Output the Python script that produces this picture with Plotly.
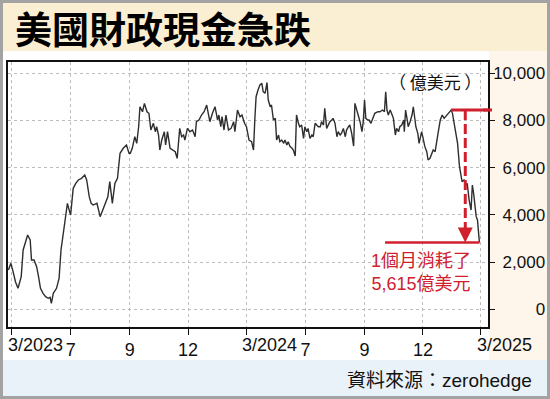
import pandas as pd
import plotly.graph_objects as go

# ---------------- data ----------------
start_date = "2023-03-01"
# days after start_date for each reading
day_offset = [
    -5, -1, 3, 6, 10, 15, 18, 22, 25, 29, 31, 35, 39, 42, 45, 49, 53, 57, 60, 62,
    65, 70, 74, 77, 81, 83, 87, 89, 92, 96, 100, 104, 109, 114, 117, 121, 124, 127, 133, 138,
    141, 146, 150, 153, 157, 161, 165, 169, 174, 179, 183,
    185, 188, 192, 195, 198, 200, 204, 207, 211, 214, 217, 221, 224, 226, 229, 231, 234, 238, 240,
    243, 247, 251, 255, 258, 262, 265, 268, 270, 274, 278, 282, 286, 288, 292, 296, 300, 304, 307,
    309, 313, 317, 321, 323, 326, 328, 331, 334, 338, 342, 346, 348, 352, 356, 359, 363, 366, 370,
    374, 377, 379, 381, 384, 387, 390, 392, 395, 398, 400, 403, 405, 408, 411, 413, 416, 418, 421,
    424, 426, 429, 431, 434, 437, 439, 442, 444, 447, 449, 452, 455, 457, 460, 462, 465, 468, 470,
    473, 475, 478, 481, 483, 486, 488, 491, 494, 496, 499, 501, 504, 507, 509, 512, 514, 517, 520,
    522, 525, 527, 530, 533, 535, 538, 540, 543, 546, 548, 550, 552, 555,
    557, 560, 564, 566, 571, 574, 578, 581, 583, 585, 587, 590, 592, 595, 598, 600, 603, 605, 608,
    611, 612, 614, 617, 618, 621, 624, 626, 628, 630, 633, 635, 639, 642, 644, 647, 649, 652, 655,
    657, 660, 662, 665, 668, 671, 674, 678, 682, 685, 687, 690, 693, 695, 698, 700, 702, 705, 708,
    710, 713, 716, 718, 720, 722, 724, 726, 727, 729,
]
# US Treasury cash balance, 億美元
cash_balance = [
    1665, 1949, 1525, 1170, 890, 1381, 2513, 2864, 3148, 2936, 2089, 2089, 1805, 1381, 890, 678, 534, 466, 508, 253,
    678, 890, 1313, 2513, 3220, 3712, 4491, 4279, 3996, 5127, 5339, 5480, 5551, 5690, 5480, 4771, 4491, 4419, 4491, 3925,
    4135, 4491, 4771, 5408, 4491, 5339, 5551, 6611, 6823, 6963, 6611,
    6611, 6823, 7313, 7033, 7737, 8584, 8373, 8728, 8373, 8305, 7597, 7881, 7526, 7737, 7385, 6749, 7173, 7526, 6963,
    7526, 6823, 6749, 6678, 6398, 7667, 7313, 7385, 7173, 7667, 7526, 7597, 7313, 7950, 8021, 8233, 8373, 8656, 8233,
    7950, 8305, 8584, 8021, 8233, 7737, 8162, 7597, 8233, 7597, 7667, 7950, 7526, 8445, 8162, 8233, 7881, 7737, 7173,
    7103, 6749, 8021, 9009, 9293, 9505, 9576, 9222, 9152, 9604, 8869, 8584, 8656, 8021, 8092, 7173, 7385, 7103, 7173,
    7033, 7173, 6963, 7103, 6893, 6823, 6749, 6496, 8233, 7881, 7737, 7809, 7243, 7737, 7526, 7667, 7243, 7385, 7313,
    7881, 7809, 7737, 7737, 7950, 7809, 8514, 7667, 7809, 7950, 8021, 8092, 7881, 7313, 7526, 7385, 7455, 7667, 7313,
    7597, 7737, 7809, 7455, 6919, 8728, 8445, 8233, 7950, 7526, 7950, 8869, 8092, 8021,
    8021, 7881, 8233, 8305, 8373, 8373, 8445, 8373, 9222, 8445, 8233, 8445, 8305, 8092, 7385, 7667, 7526, 7737, 7809,
    8021, 7526, 8445, 7950, 7737, 7950, 8233, 8584, 8092, 7737, 7455, 7033, 7526, 7103, 6893, 6678, 6327, 6398, 6611,
    6749, 6678, 6963, 7526, 8021, 8233, 8092, 8233, 8373, 8445, 8305, 7881, 7313, 7033, 6043, 5618, 5408, 5480, 5267,
    5339, 4631, 4207, 5267, 4915, 4279, 3925, 3784, 3501, 2830,
]

tick_dates = ["2023-03-01", "2023-06-01", "2023-09-01", "2023-12-01", "2024-03-01",
              "2024-06-01", "2024-09-01", "2024-12-01", "2025-03-01"]
tick_text = ["3/2023", "7", "9", "12", "3/2024", "7", "9", "12", "3/2025"]
y_ticks = [0, 2000, 4000, 6000, 8000, 10000]

title_text = "美國財政現金急跌"
unit_text = "（ 億美元 ）"
source_text = "資料來源：zerohedge"

# ---------------- derived ----------------
dates = pd.Timestamp(start_date) + pd.to_timedelta(day_offset, unit="D")
late = [i for i, d in enumerate(dates) if d >= pd.Timestamp("2025-01-01") - pd.Timedelta(days=10)]
peak_i = max(late, key=lambda i: cash_balance[i])
peak_date, peak_val = dates[peak_i], cash_balance[peak_i]
last_date, last_val = dates[-1], cash_balance[-1]
drop = peak_val - last_val

# y tick labels right-aligned using figure / punctuation spaces
FIG_SP, PUNC_SP = "\u2007", "\u2008"
y_raw = [f"{v:,}" for v in y_ticks]
full = max(y_raw, key=len)
y_text = []
for s in y_raw:
    missing = full[: len(full) - len(s)]
    pad = "".join(PUNC_SP if ch == "," else FIG_SP for ch in missing)
    y_text.append(pad + s)

# year labels are drawn with the month digit on the tick; month labels centred
x_axis_text = [t if "/" not in t else "" for t in tick_text]

# ---------------- layout geometry (pixels) ----------------
W, H = 550, 399
L, R, T, B = 8, 488, 62, 327


def px(x):
    return (x - L) / (R - L)


def py(y):
    return (B - y) / (B - T)


RED = "#D0202E"
XFONT = dict(family="Liberation Sans, Arial", size=18, color="#111111")
YFONT = dict(family="Liberation Sans, Arial", size=17, color="#111111")

fig = go.Figure()
fig.add_trace(go.Scatter(x=dates, y=cash_balance, mode="lines",
                         line=dict(color="#2E2E2E", width=1.4), hoverinfo="skip",
                         showlegend=False))

shapes = [
    dict(type="rect", xref="paper", yref="paper", x0=px(0), x1=px(W), y0=py(51), y1=py(0),
         fillcolor="#FAEFD2", line=dict(width=0), layer="below"),
    dict(type="rect", xref="paper", yref="paper", x0=px(489), x1=px(W), y0=py(360), y1=py(51),
         fillcolor="#FEF6EA", line=dict(width=0), layer="below"),
    dict(type="rect", xref="paper", yref="paper", x0=px(0), x1=px(W), y0=py(H), y1=py(360),
         fillcolor="#EAF2F9", line=dict(width=0), layer="below"),
    dict(type="rect", xref="paper", yref="paper", x0=px(1.5), x1=px(W - 1.5), y0=py(H - 1.5), y1=py(1.5),
         fillcolor="rgba(0,0,0,0)", line=dict(width=3, color="#A3A3A3"), layer="above"),
    # top red level line (from the peak to just past the axis)
    dict(type="line", xref="x", yref="y", x0=peak_date, x1=last_date + pd.Timedelta(days=13),
         y0=peak_val, y1=peak_val, line=dict(color=RED, width=3), layer="above"),
    dict(type="line", xref="paper", yref="y", x0=0.99, x1=px(492),
         y0=peak_val, y1=peak_val, line=dict(color=RED, width=3), layer="above"),
    # bottom red level line
    dict(type="line", xref="x", yref="y", x0=last_date - pd.Timedelta(days=147), x1=last_date,
         y0=last_val, y1=last_val, line=dict(color=RED, width=2.5), layer="above"),
    # dashed drop line
    dict(type="line", xref="x", yref="y", x0=last_date - pd.Timedelta(days=22), x1=last_date - pd.Timedelta(days=22),
         y0=peak_val, y1=last_val + 450, line=dict(color=RED, width=3, dash="10px,4px"), layer="above"),
]

annotations = [
    dict(text="<b>" + title_text + "</b>", xref="paper", yref="paper", x=px(13), y=py(28),
         xanchor="left", yanchor="middle", showarrow=False,
         font=dict(family="Noto Sans CJK TC", size=37, color="#000000")),
    dict(text=unit_text, xref="paper", yref="paper", x=px(484), y=py(81),
         xanchor="right", yanchor="middle", showarrow=False,
         font=dict(family="Noto Sans CJK TC", size=17, color="#111111")),
    dict(text=f"1個月消耗了<br>{drop:,}億美元", xref="paper", yref="paper", x=px(421), y=py(272),
         xanchor="center", yanchor="middle", showarrow=False, align="center",
         font=dict(family="Liberation Sans, Noto Sans CJK TC", size=18, color=RED)),
    dict(text=source_text, xref="paper", yref="paper", x=px(534), y=py(380),
         xanchor="right", yanchor="middle", showarrow=False,
         font=dict(family="Liberation Sans, Noto Sans CJK TC", size=19, color="#111111")),
    dict(text="", xref="x", yref="y", x=last_date - pd.Timedelta(days=22), y=last_val,
         ax=0, ay=-16, showarrow=True, arrowhead=2, arrowsize=1, arrowwidth=3, arrowcolor=RED),
]
for d, t in zip(tick_dates, tick_text):
    if "/" in t:
        annotations.append(dict(text=t, xref="x", yref="paper", x=d, y=py(345),
                                xanchor="left", yanchor="middle", xshift=-6, showarrow=False,
                                font=XFONT))

fig.update_layout(
    width=W, height=H,
    margin=dict(l=L, r=W - R, t=T, b=H - B, pad=0, autoexpand=False),
    paper_bgcolor="#FFFFFF", plot_bgcolor="#FFFFFF",
    shapes=shapes, annotations=annotations,
    showlegend=False,
)
fig.update_xaxes(
    range=[pd.Timestamp(start_date) - pd.Timedelta(days=5.6), pd.Timestamp(start_date) + pd.Timedelta(days=742.4)],
    tickmode="array", tickvals=tick_dates, ticktext=x_axis_text,
    ticks="outside", ticklen=6, tickwidth=1.2, tickcolor="#111111",
    showgrid=True, gridcolor="#BDBDBD", griddash="dot", gridwidth=1,
    showline=True, linecolor="#111111", linewidth=1.5, mirror=True,
    tickfont=XFONT, zeroline=False, fixedrange=True, automargin=False,
)
fig.update_yaxes(
    range=[-750, 10480], side="right",
    tickmode="array", tickvals=y_ticks, ticktext=y_text,
    ticks="outside", ticklen=5, tickwidth=1.2, tickcolor="#111111",
    showgrid=True, gridcolor="#BDBDBD", griddash="dot", gridwidth=1,
    showline=True, linecolor="#111111", linewidth=1.5, mirror=True,
    tickfont=YFONT, ticklabelstandoff=-5, zeroline=False, fixedrange=True, automargin=False,
)

fig.write_html("out.html")
